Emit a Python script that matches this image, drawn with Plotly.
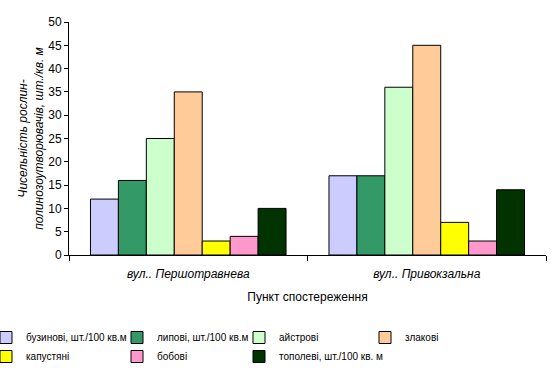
import plotly.graph_objects as go

categories = ["вул.. Першотравнева", "вул.. Привокзальна"]
series_names = ["бузинові, шт./100 кв.м", "липові, шт./100 кв.м", "айстрові", "злакові",
                "капустяні", "бобові", "тополеві, шт./100 кв. м"]
values_buzynovi = [12, 17]
values_lypovi = [16, 17]
values_aistrovi = [25, 36]
values_zlakovi = [35, 45]
values_kapustiani = [3, 7]
values_bobovi = [4, 3]
values_topolevi = [10, 14]
colors = ["#CCCCFF", "#339966", "#CCFFCC", "#FFCC99", "#FFFF00", "#FF99CC", "#003300"]
y_ticks = [0, 5, 10, 15, 20, 25, 30, 35, 40, 45, 50]

all_values = [values_buzynovi, values_lypovi, values_aistrovi, values_zlakovi,
              values_kapustiani, values_bobovi, values_topolevi]
# legend column for each series (reference legend: 4 columns, 2 rows)
legend_ids = ["legend", "legend2", "legend3", "legend4", "legend", "legend2", "legend3"]

font = "Liberation Sans, Arial, sans-serif"
fig = go.Figure()
for name, vals, col, lg in zip(series_names, all_values, colors, legend_ids):
    fig.add_trace(go.Bar(x=categories, y=vals, name=name, marker_color=col,
                         marker_line=dict(color="black", width=1), legend=lg))

W, H = 555, 371
L, T, R, B = 69, 22, 9, 116
plot_w = W - L - R
plot_h = H - T - B


def px_x(p):
    return (p - L) / plot_w


def px_y(p):
    return (H - B - p) / plot_h


legend_top = 323
col_text_starts = [26, 157, 279, 405]
legend_common = dict(orientation="v", xanchor="left", yanchor="top",
                     font=dict(size=10, family=font), itemwidth=30, tracegroupgap=0,
                     bgcolor="rgba(0,0,0,0)")
legends = {}
for i, key in enumerate(["legend", "legend2", "legend3", "legend4"]):
    legends[key] = dict(legend_common, x=px_x(col_text_starts[i] - 40), y=px_y(legend_top))

fig.update_layout(
    width=W, height=H,
    margin=dict(l=L, r=R, t=T, b=B, autoexpand=False),
    paper_bgcolor="white", plot_bgcolor="white",
    barmode="group", bargap=0.18, bargroupgap=0,
    font=dict(family=font, size=11, color="black"),
    showlegend=True,
    **legends,
)
fig.update_xaxes(showline=True, linecolor="black", linewidth=1,
                 ticks="outside", tickson="boundaries", ticklen=5, tickcolor="black",
                 ticklabelstandoff=8,
                 tickfont=dict(size=12, family=font, style="italic"),
                 title=dict(text="Пункт спостереження", font=dict(size=12), standoff=12),
                 mirror=False)
fig.update_yaxes(range=[0, 50], tickvals=y_ticks, showline=True, linecolor="black", linewidth=1,
                 ticks="outside", ticklen=4, tickcolor="black", showgrid=False, zeroline=False,
                 tickfont=dict(size=12),
                 title=dict(text="Чисельність рослин-<br>полинозоутворювачів, шт./кв. м",
                            font=dict(size=12, style="italic"), standoff=2))
fig.write_html("out.html", config={"displayModeBar": False},
               post_script="document.body.style.margin='0';document.body.style.overflow='hidden';")
